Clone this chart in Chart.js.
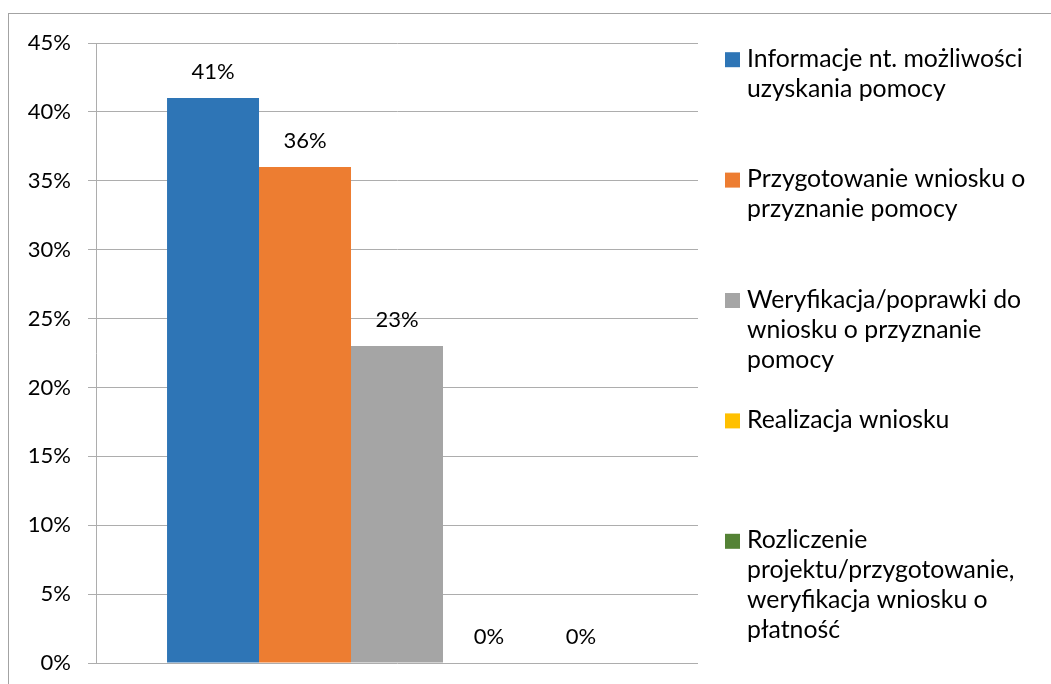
<!DOCTYPE html>
<html lang="pl">
<head>
<meta charset="utf-8">
<title>Wykres</title>
<script src="https://cdn.jsdelivr.net/npm/chart.js@4"></script>
<style>
  html, body { margin: 0; padding: 0; background: #fff; }
  #ramka { position: absolute; left: 8px; top: 13px; width: 1100px; height: 700px;
           border-left: 1px solid #a3a3a3; border-top: 1px solid #a3a3a3; }
  #wrap { position: absolute; left: 0; top: 0; width: 1051px; height: 684px; }
</style>
</head>
<body>
<div id="ramka"></div>
<div id="wrap"><canvas id="meuGrafico" width="1051" height="684"></canvas></div>
<script>
// dane
const kategorie = [''];
const nazwySerii = [
    ['Informacje nt. możliwości', 'uzyskania pomocy'],
    ['Przygotowanie wniosku o', 'przyznanie pomocy'],
    ['Weryfikacja/poprawki do', 'wniosku o przyznanie', 'pomocy'],
    ['Realizacja wniosku'],
    ['Rozliczenie', 'projektu/przygotowanie,', 'weryfikacja wniosku o', 'płatność']
];
const wartosci = [41, 36, 23, 0, 0];
const kolory = ['#2e75b6', '#ed7d31', '#a5a5a5', '#ffc000', '#548235'];
const ticksY = [0, 5, 10, 15, 20, 25, 30, 35, 40, 45];

const fonte = 'Lato, "Open Sans", sans-serif';

// etykiety nad słupkami
const etykietyPlugin = {
    id: 'etykiety',
    afterDatasetsDraw(chart) {
        const ctx = chart.ctx;
        ctx.save();
        ctx.font = '22px ' + fonte;
        ctx.fillStyle = '#000';
        ctx.textAlign = 'center';
        ctx.textBaseline = 'middle';
        chart.data.datasets.forEach((ds, i) => {
            const meta = chart.getDatasetMeta(i);
            meta.data.forEach((bar, j) => {
                ctx.fillText(ds.data[j] + '%', bar.x, bar.y - 26);
            });
        });
        ctx.restore();
    }
};

// legenda po prawej, wiele linii
const legendaPlugin = {
    id: 'legenda',
    afterDraw(chart) {
        const ctx = chart.ctx;
        ctx.save();
        ctx.font = '24.8px ' + fonte;
        ctx.textAlign = 'left';
        ctx.textBaseline = 'alphabetic';
        chart.data.datasets.forEach((ds, i) => {
            const base = 66.7 + 120.4 * i;
            ctx.fillStyle = ds.backgroundColor;
            ctx.fillRect(725, base - 14.5, 15, 15);
            ctx.fillStyle = '#000';
            ds.linie.forEach((t, k) => ctx.fillText(t, 747, base + 30 * k));
        });
        ctx.restore();
    }
};

const datasets = wartosci.map((v, i) => ({
    label: nazwySerii[i].join(' '),
    linie: nazwySerii[i],
    data: [v],
    backgroundColor: kolory[i],
    borderWidth: 0,
    categoryPercentage: 0.764,
    barPercentage: 1
}));

const ctx = document.getElementById('meuGrafico').getContext('2d');
new Chart(ctx, {
    type: 'bar',
    data: { labels: kategorie, datasets: datasets },
    plugins: [etykietyPlugin, legendaPlugin],
    options: {
        responsive: false,
        animation: false,
        layout: { padding: { left: 0, right: 353, top: 43, bottom: 21 } },
        plugins: { legend: { display: false }, tooltip: { enabled: false } },
        scales: {
            x: { display: false },
            y: {
                min: 0,
                max: 45,
                afterBuildTicks(scale) { scale.ticks = ticksY.map(v => ({ value: v })); },
                afterFit(scale) {
                    scale.width = 96;
                    scale.paddingTop = 0;
                    scale.paddingBottom = 0;
                },
                ticks: {
                    padding: 17,
                    color: '#000',
                    font: { family: fonte, size: 22 },
                    callback: v => v + '%'
                },
                grid: { color: '#adadad', tickLength: 8, lineWidth: 1 },
                border: { display: true, color: '#adadad' }
            }
        }
    }
});
</script>
</body>
</html>
